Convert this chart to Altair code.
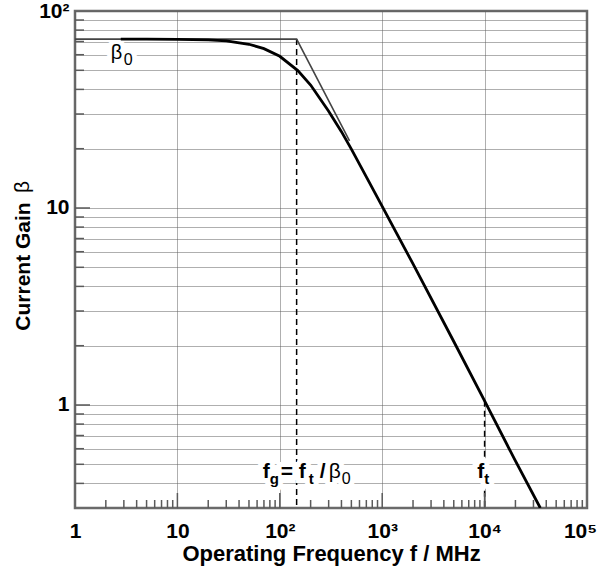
import altair as alt
import pandas as pd

# ---------------- data ----------------
curve_f = [2.8, 5, 10, 20, 30, 50, 70, 100, 150, 200, 300, 400, 500, 700,
           1000, 2000, 5000, 10000, 20000, 35000]
curve_beta = [72.0, 71.9, 71.8, 71.3, 70.5, 67.8, 64.4, 58.9, 49.8, 42.1,
              31.0, 24.4, 19.9, 14.4, 10.2, 5.2, 2.1, 1.05, 0.52, 0.3]

asym_f = [1, 146, 480]
asym_beta = [72, 72, 21.9]

fg_f = [146, 146]
fg_beta = [72, 0.3]
ft_f = [10000, 10000]
ft_beta = [1.05, 0.3]

x_major = [1, 10, 100, 1000, 10000, 100000]
x_major_labels = ["1", "10", "10²", "10³", "10⁴", "10⁵"]
x_minor = [2, 3, 4, 5, 6, 7, 8, 9,
           20, 30, 40, 50, 60, 70, 80, 90,
           200, 300, 400, 500, 600, 700, 800, 900,
           2000, 3000, 4000, 5000, 6000, 7000, 8000, 9000,
           20000, 30000, 40000, 50000, 60000, 70000, 80000, 90000]
x_long = [10, 100, 1000, 10000]

y_grid = [0.4, 0.5, 0.6, 0.7, 0.8, 0.9, 1,
          2, 3, 4, 5, 6, 7, 8, 9, 10,
          20, 30, 40, 50, 60, 70, 80, 90, 100]
y_label_values = [100, 10, 1]
y_label_texts = ["10²", "10", "1"]
y_minor = [0.4, 0.5, 0.6, 0.7, 0.8, 0.9,
           2, 3, 4, 5, 6, 7, 8, 9,
           20, 30, 40, 50, 60, 70, 80, 90]
y_long = [1, 10]

# annotation pieces (anchor in data units, offsets in px)
ann_text = ["β", "0", "f", "g", "= f", "t", "/", "β", "0", "f", "t"]
ann_f = [2.24, 2.24, 68.0, 68.0, 68.0, 68.0, 68.0, 68.0, 68.0, 8472, 8472]
ann_beta = [57.0, 57.0, 0.426, 0.426, 0.426, 0.426, 0.426, 0.426, 0.426, 0.426, 0.426]
ann_dx = [0, 13, 0, 7, 18, 46, 57, 66, 79, 0, 7]
ann_dy = [0, 6, 0, 6, 0, 6, 0, 0, 6, 0, 6]
ann_size = [20, 16, 21, 15, 21, 15, 21, 21, 16, 21, 15]
ann_bold = [False, False, True, True, True, True, True, False, False, True, True]

FONT = "Liberation Sans"
W, H = 512, 497
GRID = "#5e5e5e"

xs = alt.Scale(type="log", domain=[1, 100000], nice=False)
ys = alt.Scale(type="log", domain=[0.3, 100], nice=False)


def lab_expr(vals, texts):
    e = "''"
    for v, t in reversed(list(zip(vals, texts))):
        e = f"datum.value == {v} ? '{t}' : " + e
    return e


x_axis = alt.Axis(values=x_major, labelExpr=lab_expr(x_major, x_major_labels),
                  grid=True, gridColor=GRID, gridDash=[1, 1], gridWidth=1,
                  gridOpacity=1,
                  ticks=False, domain=False,
                  labelFont=FONT, labelFontWeight="bold", labelFontSize=21,
                  labelColor="black", labelPadding=12, labelFlush=False,
                  labelOverlap=False,
                  labelOffset={"condition": {"test": "datum.value >= 100000", "value": -7},
                               "value": 0},
                  title="Operating Frequency f / MHz", titleFont=FONT,
                  titleFontSize=22, titleFontWeight="bold", titleColor="black",
                  titleX=256, titleY=52, titleBaseline="alphabetic",
                  titleAlign="center")
y_axis = alt.Axis(values=y_grid, labelExpr=lab_expr(y_label_values, y_label_texts),
                  grid=True, gridColor=GRID, gridDash=[1, 1], gridWidth=1,
                  gridOpacity=1,
                  ticks=False, domain=False,
                  labelFont=FONT, labelFontWeight="bold", labelFontSize=21,
                  labelColor="black", labelPadding=6, labelOverlap=False,
                  title="Current Gain", titleFont=FONT, titleFontSize=21,
                  titleFontWeight="bold", titleColor="black",
                  titleX=-52, titleY=255, titleAngle=270,
                  titleBaseline="middle", titleAlign="center")

X = alt.X("f:Q", scale=xs, axis=x_axis)
Y = alt.Y("beta:Q", scale=ys, axis=y_axis)

curve_df = pd.DataFrame({"f": curve_f, "beta": curve_beta})
asym_df = pd.DataFrame({"f": asym_f, "beta": asym_beta})
fg_df = pd.DataFrame({"f": fg_f, "beta": fg_beta})
ft_df = pd.DataFrame({"f": ft_f, "beta": ft_beta})


def enc(ch):
    return ch.encode(x=X, y=Y)


fg_line = enc(alt.Chart(fg_df).mark_line(color="black", strokeWidth=1.5, strokeDash=[6, 4]))
ft_line = enc(alt.Chart(ft_df).mark_line(color="black", strokeWidth=1.5, strokeDash=[6, 4]))

halos = []
texts = []
for i in range(len(ann_text)):
    d = pd.DataFrame({"f": [ann_f[i]], "beta": [ann_beta[i]], "t": [ann_text[i]]})
    common = dict(align="left", baseline="alphabetic", dx=ann_dx[i], dy=ann_dy[i],
                  font=FONT, fontSize=ann_size[i],
                  fontWeight="bold" if ann_bold[i] else "normal")
    halos.append(enc(alt.Chart(d).mark_text(fill="white", stroke="white",
                                            strokeWidth=10, **common)).encode(text="t:N"))
    texts.append(enc(alt.Chart(d).mark_text(color="black", **common)).encode(text="t:N"))

asym_line = enc(alt.Chart(asym_df).mark_line(color="#444444", strokeWidth=1.6))
curve_line = enc(alt.Chart(curve_df).mark_line(color="black", strokeWidth=2.8, clip=True))

# inward tick marks
xminor_df = pd.DataFrame({"f": x_minor})
xlong_df = pd.DataFrame({"f": x_long})
yminor_df = pd.DataFrame({"beta": y_minor})
ylong_df = pd.DataFrame({"beta": y_long})

tick_col = "#5a5a5a"
xminor_ticks = alt.Chart(xminor_df).mark_rule(color=tick_col, strokeWidth=1.5).encode(
    x=X, y=alt.value(H), y2=alt.value(H - 8))
xlong_ticks = alt.Chart(xlong_df).mark_rule(color=tick_col, strokeWidth=1.5).encode(
    x=X, y=alt.value(H), y2=alt.value(H - 15))
yminor_ticks = alt.Chart(yminor_df).mark_rule(color=tick_col, strokeWidth=1.5).encode(
    y=Y, x=alt.value(0), x2=alt.value(9))
ylong_ticks = alt.Chart(ylong_df).mark_rule(color=tick_col, strokeWidth=1.5).encode(
    y=Y, x=alt.value(0), x2=alt.value(15))

beta_title = alt.Chart(pd.DataFrame({"t": ["β"]})).mark_text(
    angle=270, align="center", baseline="middle", font=FONT, fontSize=21,
    color="black").encode(x=alt.value(-52), y=alt.value(176), text="t:N")

chart = alt.layer(
    fg_line, ft_line, *halos, *texts, asym_line, curve_line,
    xminor_ticks, xlong_ticks, yminor_ticks, ylong_ticks, beta_title,
).properties(
    width=W, height=H,
    autosize=alt.AutoSizeParams(type="none"),
    padding={"left": 75, "top": 11, "right": 12, "bottom": 61},
    background="white",
).configure_view(stroke="#6a6a6a", strokeWidth=2.5)

chart.save("out.html", embed_options={"renderer": "svg", "actions": False})
